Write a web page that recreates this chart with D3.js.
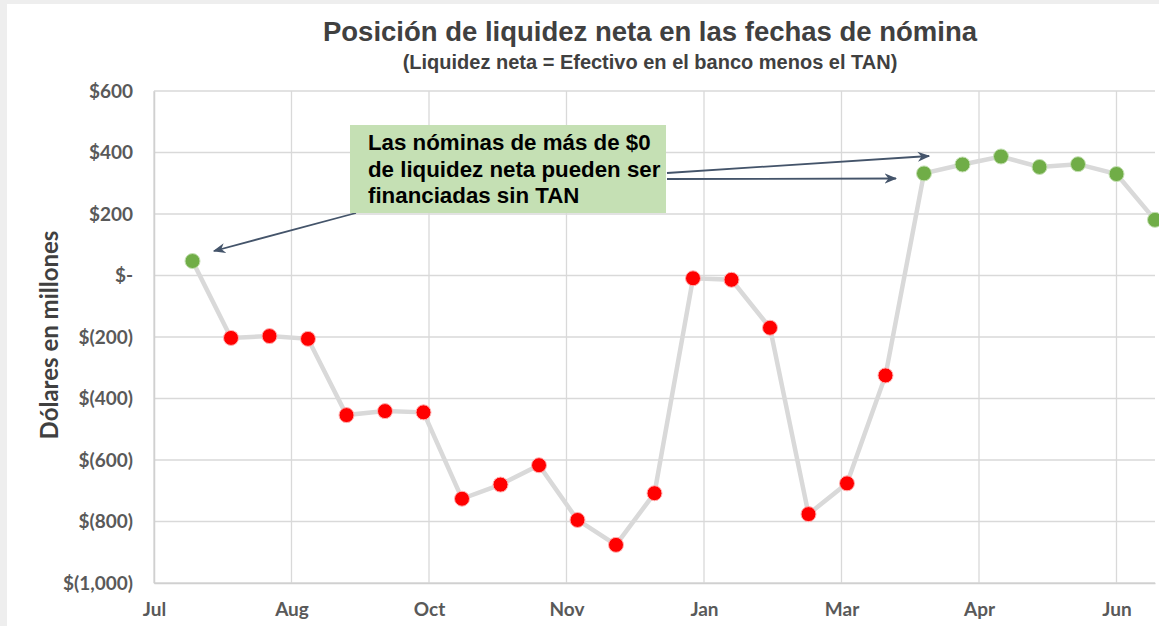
<!DOCTYPE html>
<html>
<head>
<meta charset="utf-8">
<script src="https://cdn.jsdelivr.net/npm/d3@7"></script>
<style>
  html, body { margin: 0; padding: 0; background: #eeeeee; }
  svg { display: block; }
</style>
</head>
<body>
<svg id="chart" width="1159" height="626"></svg>
<script>
// payroll dates (every two weeks) and net liquidity in $ millions
const payDates = [
  '2021-07-15', '2021-07-29', '2021-08-12', '2021-08-26', '2021-09-09', '2021-09-23',
  '2021-10-07', '2021-10-21', '2021-11-04', '2021-11-18', '2021-12-02', '2021-12-16',
  '2021-12-30', '2022-01-13', '2022-01-27', '2022-02-10', '2022-02-24', '2022-03-10',
  '2022-03-24', '2022-04-07', '2022-04-21', '2022-05-05', '2022-05-19', '2022-06-02',
  '2022-06-16', '2022-06-30'
];
const netLiquidity = [
  47, -203, -197, -206, -454, -441,
  -445, -726, -680, -617, -795, -876,
  -708, -9, -14, -170, -776, -676,
  -325, 332, 361, 387, 353, 362,
  330, 181
];
const yTicks = [600, 400, 200, 0, -200, -400, -600, -800, -1000];
const xTickDates = ['2021-07-01', '2021-08-20', '2021-10-09', '2021-11-28',
  '2022-01-17', '2022-03-08', '2022-04-27', '2022-06-16'];
const noteLines = ['Las nóminas de más de $0', 'de liquidez neta pueden ser', 'financiadas sin TAN'];

const parse = d3.timeParse('%Y-%m-%d');
const data = payDates.map((d, i) => ({ date: parse(d), value: netLiquidity[i] }));

const svg = d3.select('#chart');
const plotL = 154, plotR = 1155, plotT = 91, plotB = 583;

const x = d3.scaleTime()
  .domain([parse('2021-07-01'), parse('2022-06-30')])
  .range([plotL, plotR]);
const y = d3.scaleLinear().domain([-1000, 600]).range([plotB, plotT]);

// white card
svg.append('rect').attr('x', 7).attr('y', 4).attr('width', 1159).attr('height', 626).attr('fill', '#fff');

// grid
const grid = svg.append('g');
grid.selectAll('.hg').data(yTicks).join('line')
  .attr('x1', plotL).attr('x2', plotR)
  .attr('y1', d => y(d)).attr('y2', d => y(d))
  .attr('stroke', '#d9d9d9').attr('stroke-width', 1.3);
grid.selectAll('.vg').data(xTickDates.map(parse)).join('line')
  .attr('x1', d => x(d)).attr('x2', d => x(d))
  .attr('y1', plotT).attr('y2', plotB)
  .attr('stroke', '#d9d9d9').attr('stroke-width', 1.3);

// axes
const fmt = v => v === 0 ? '$-' : v < 0 ? '$(' + d3.format(',')(-v) + ')' : '$' + d3.format(',')(v);
const yAxis = svg.append('g')
  .attr('transform', `translate(${plotL},0)`)
  .call(d3.axisLeft(y).tickValues(yTicks).tickFormat(fmt).tickSize(0).tickPadding(21));
const xAxis = svg.append('g')
  .attr('transform', `translate(0,${plotB})`)
  .call(d3.axisBottom(x).tickValues(xTickDates.map(parse)).tickFormat(d3.timeFormat('%b')).tickSize(0).tickPadding(20));
[yAxis, xAxis].forEach(a => {
  a.select('.domain').attr('stroke', '#d0d0d0').attr('stroke-width', 1.5);
  a.selectAll('text')
    .attr('fill', '#595959')
    .style('font-family', 'Lato, sans-serif')
    .style('font-weight', 'bold')
    .style('font-size', '19px');
});

// line + markers
svg.append('path').datum(data)
  .attr('fill', 'none')
  .attr('stroke', '#d9d9d9')
  .attr('stroke-width', 4.5)
  .attr('d', d3.line().x(d => x(d.date)).y(d => y(d.value)));
svg.append('g').selectAll('circle').data(data).join('circle')
  .attr('cx', d => x(d.date)).attr('cy', d => y(d.value))
  .attr('r', 7.5)
  .attr('fill', d => d.value >= 0 ? '#70ad47' : '#ff0000')
  .attr('stroke', d => d.value >= 0 ? '#c5e0b4' : '#ffb3b3')
  .attr('stroke-width', 1);

// titles
svg.append('text').attr('x', 650).attr('y', 41).attr('text-anchor', 'middle')
  .attr('fill', '#404040').style('font-family', 'Liberation Sans, Arial, sans-serif')
  .style('font-weight', 'bold').style('font-size', '27.5px')
  .text('Posición de liquidez neta en las fechas de nómina');
svg.append('text').attr('x', 650).attr('y', 69).attr('text-anchor', 'middle')
  .attr('fill', '#404040').style('font-family', 'Liberation Sans, Arial, sans-serif')
  .style('font-weight', 'bold').style('font-size', '20px')
  .text('(Liquidez neta = Efectivo en el banco menos el TAN)');
svg.append('text')
  .attr('transform', 'translate(58,335) rotate(-90)')
  .attr('text-anchor', 'middle')
  .attr('fill', '#404040').style('font-family', 'Lato, sans-serif')
  .style('font-weight', 'bold').style('font-size', '24px')
  .text('Dólares en millones');

// annotation
svg.append('defs').append('marker')
  .attr('id', 'arrow').attr('viewBox', '0 0 10 10')
  .attr('refX', 9).attr('refY', 5)
  .attr('markerWidth', 7).attr('markerHeight', 7)
  .attr('orient', 'auto')
  .append('path').attr('d', 'M0,1 L10,5 L0,9 L3,5 Z').attr('fill', '#44546a');

const arrows = [
  [356, 213, 214, 251],
  [667, 173, 929, 156],
  [667, 179, 896, 178.5]
];
svg.append('g').selectAll('line').data(arrows).join('line')
  .attr('x1', d => d[0]).attr('y1', d => d[1])
  .attr('x2', d => d[2]).attr('y2', d => d[3])
  .attr('stroke', '#44546a').attr('stroke-width', 1.8)
  .attr('marker-end', 'url(#arrow)');

svg.append('rect').attr('x', 350).attr('y', 125).attr('width', 316).attr('height', 88)
  .attr('fill', '#c5e0b4');
svg.append('g').selectAll('text').data(noteLines).join('text')
  .attr('x', 368).attr('y', (d, i) => 150 + i * 26.7)
  .attr('fill', '#000')
  .style('font-family', 'Liberation Sans, Arial, sans-serif')
  .style('font-weight', 'bold').style('font-size', '22.3px')
  .text(d => d);
</script>
</body>
</html>
